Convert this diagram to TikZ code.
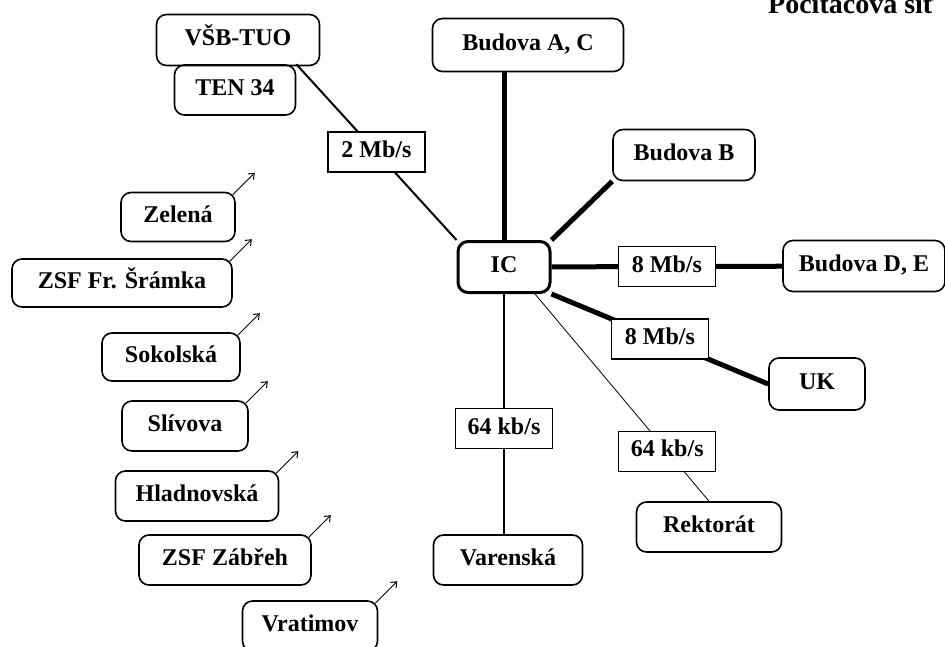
\documentclass[tikz,border=0pt]{standalone}
\usepackage{fontspec}
\setmainfont{Liberation Serif}
\usetikzlibrary{arrows.meta}
\begin{document}
\begin{tikzpicture}[x=1pt,y=-1pt,
    site/.style={draw,line width=1.6pt,rounded corners=10pt,inner sep=0pt,
                 text height=16pt,text depth=5pt,
                 minimum height=50pt,font=\bfseries\fontsize{24}{26}\selectfont},
    hub/.style={site,line width=3pt},
    debit/.style={draw,fill=white,line width=1.4pt,inner sep=0pt,minimum width=97pt,
                  text height=16pt,text depth=5pt,
                  minimum height=40pt,font=\bfseries\fontsize{24}{26}\selectfont},
    fat/.style={line width=5pt},
    mid/.style={line width=2pt},
    fin/.style={line width=0.8pt},
    ext/.style={line width=1pt,-{Straight Barb[length=5pt,width=8pt]}}]
        \useasboundingbox[fill=white] (0,0) rectangle (945,646);
        \clip (0,0) rectangle (945,646);
        % titre (coupe en haut)
        \node[anchor=base west,inner sep=0pt,font=\bfseries\fontsize{28}{30}\selectfont] (titre) at (768,13) {Počítačová síť};
        % uzly
        \node[site,minimum width=163pt,minimum height=51pt] (vsb) at (238,40) {VŠB-TUO};
        \node[site,minimum width=121pt] (ten) at (235,90) {TEN 34};
        \node[site,minimum width=191pt,minimum height=53pt] (ac) at (528,45) {Budova A, C};
        \node[site,minimum width=142pt,minimum height=51pt] (bb) at (684,155) {Budova B};
        \node[hub,minimum width=92pt,minimum height=51pt] (ic) at (504,267) {IC};
        \node[site,minimum width=162pt,minimum height=51pt] (de) at (864,266) {Budova D, E};
        \node[site,minimum width=96pt,minimum height=52pt] (uk) at (817,384) {UK};
        \node[site,minimum width=149pt] (var) at (508,560) {Varenská};
        \node[site,minimum width=145pt] (rek) at (709,527) {Rektorát};
        % vzdalena pracoviste
        \node[site,minimum width=114pt,minimum height=49pt] (zel) at (178,217) {Zelená};
        \node[site,minimum width=220pt,minimum height=48pt] (sram) at (122,283) {ZSF Fr. Šrámka};
        \node[site,minimum width=138pt,minimum height=48pt] (sok) at (171,357) {Sokolská};
        \node[site,minimum width=126pt] (sli) at (185,426) {Slívova};
        \node[site,minimum width=163pt] (hla) at (197,496) {Hladnovská};
        \node[site,minimum width=172pt] (zab) at (225,560) {ZSF Zábřeh};
        \node[site,minimum width=135pt] (vra) at (310,626) {Vratimov};
        % spoje
        \draw[fat] (ic.north) -- (ic.north |- ac.south);
        \draw[fat] (ic.north east) -- (bb.south west);
        \draw[fat] (ic) -- node[debit]{8 Mb/s} (de);
        \draw[fat] (ic.south east) -- node[debit]{8 Mb/s} (uk.west);
        \draw[mid] (ten.north east) -- node[debit]{2 Mb/s} (ic.north west);
        \draw[mid] (ic.south) -- node[debit,pos=.56]{64 kb/s} (ic.south |- var.north);
        \draw[fin] ([xshift=31pt]ic.south) -- node[debit,pos=.76]{64 kb/s} (rek.north);
        \foreach \n in {zel,sram,sok,sli,hla,zab,vra}
            \draw[ext] ([shift={(-3,3)}]\n.north east) -- ++(22,-22);
\end{tikzpicture}
\end{document}
